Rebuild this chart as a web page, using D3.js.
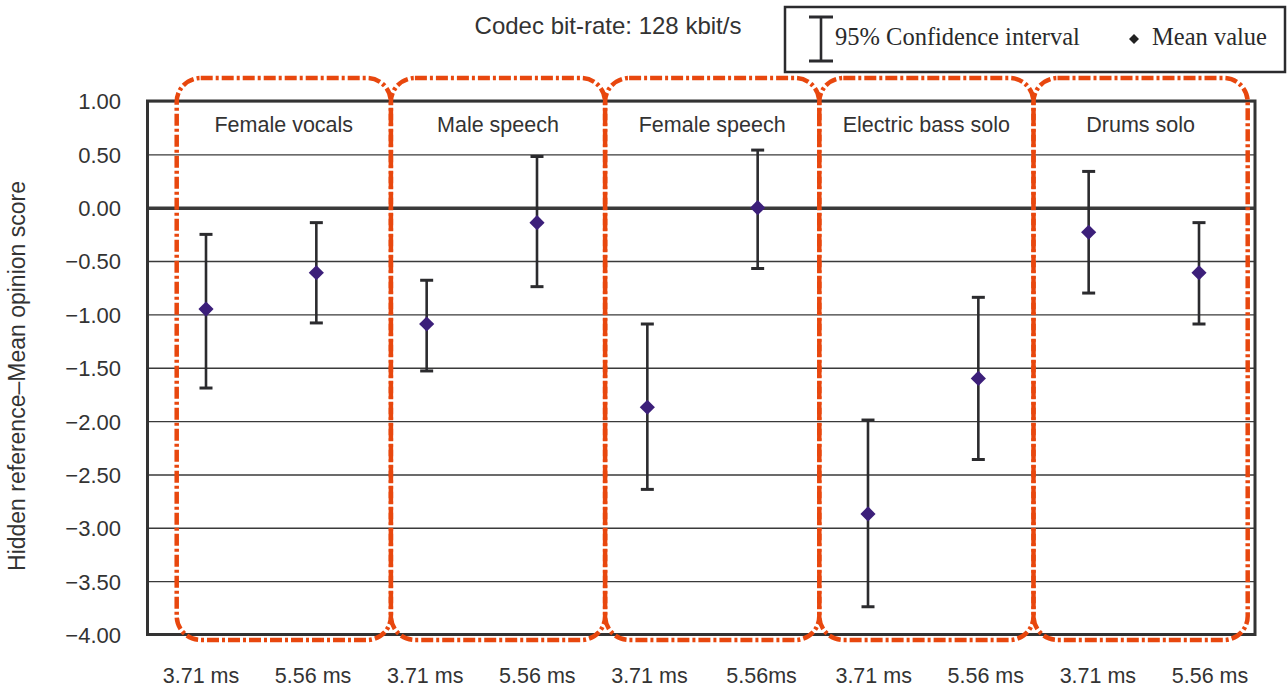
<!DOCTYPE html>
<html>
<head>
<meta charset="utf-8">
<script src="https://cdn.jsdelivr.net/npm/d3@7"></script>
<style>
  body { margin: 0; background: #fff; }
  text { font-family: "Liberation Sans", Arial, sans-serif; fill: #333; }
  .legend { font-family: "Liberation Serif", "Times New Roman", serif; fill: #2a2a2a; }
</style>
</head>
<body>
<div id="chart"></div>
<script>
// signal types, one box each
var categories = ["Female vocals", "Male speech", "Female speech", "Electric bass solo", "Drums solo"];
// delay conditions (x labels)
var delays = ["3.71 ms", "5.56 ms", "3.71 ms", "5.56 ms", "3.71 ms", "5.56ms", "3.71 ms", "5.56 ms", "3.71 ms", "5.56 ms"];
// mean values and 95% confidence limits
var meanValues = [-0.95, -0.61, -1.09, -0.14, -1.87, 0.00, -2.87, -1.60, -0.23, -0.61];
var ciUpper    = [-0.25, -0.14, -0.68,  0.48, -1.09, 0.54, -1.99, -0.84,  0.34, -0.14];
var ciLower    = [-1.69, -1.08, -1.53, -0.74, -2.64, -0.57, -3.74, -2.36, -0.80, -1.09];
var yTicks = [1, 0.5, 0, -0.5, -1, -1.5, -2, -2.5, -3, -3.5, -4];

var w = 1288, h = 689;
var marges = {left: 147.5, right: 33, top: 101, bottom: 54.5};
var graf_w = w - marges.left - marges.right;
var graf_h = h - marges.top - marges.bottom;

var svg = d3.select("#chart")
  .append("svg")
    .attr("width", w)
    .attr("height", h);

var data = meanValues.map(function(m, i) {
    return {i: i, mean: m, hi: ciUpper[i], lo: ciLower[i], label: delays[i]};
});

// <-- SCALES -------------
var y = d3.scaleLinear()
    .domain([-4, 1])
    .range([marges.top + graf_h, marges.top]);

var x = d3.scalePoint()
    .domain(d3.range(delays.length))
    .range([206, 1199]);

// x labels sit on a slightly wider spacing than the marks
var xLab = d3.scalePoint()
    .domain(d3.range(delays.length))
    .range([201, 1210]);

// box edges for the signal groups
var xBox = d3.scaleLinear()
    .domain([0, categories.length])
    .range([176.7, 1247.7]);
// -- SCALES ------------->

// <-- GRID + Y AXIS -------------
svg.append("g")
  .attr("class", "grid")
  .attr("transform", "translate(" + marges.left + ",0)")
  .call(d3.axisLeft(y).tickValues(yTicks).tickSize(-graf_w).tickFormat(""))
  .call(function(g) { g.select(".domain").remove(); })
  .selectAll("line")
    .attr("stroke", "#3a3a3a")
    .attr("stroke-width", function(d) { return d == 0 ? 3.5 : 1.4; });

var yaxis = svg.append("g")
  .attr("class", "yaxis")
  .attr("transform", "translate(121," + 0 + ")")
  .call(d3.axisLeft(y).tickValues(yTicks).tickSize(0).tickPadding(0).tickFormat(d3.format(".2f")));
yaxis.select(".domain").remove();
yaxis.selectAll("text")
    .style("font-size", "22px")
    .attr("dy", "0.36em")
    .attr("fill", "#333");

svg.append("rect")
    .attr("x", marges.left)
    .attr("y", marges.top)
    .attr("width", graf_w)
    .attr("height", graf_h)
    .attr("fill", "none")
    .attr("stroke", "#333")
    .attr("stroke-width", 3);

svg.append("text")
    .attr("transform", "translate(25," + 376 + ") rotate(-90)")
    .attr("text-anchor", "middle")
    .style("font-size", "23px")
    .text("Hidden reference\u2013Mean opinion score");
// -- GRID + Y AXIS ------------->

// <-- GROUP BOXES -------------
svg.append("g")
  .selectAll("rect")
  .data(categories)
  .enter().append("rect")
    .attr("x", function(d, i) { return xBox(i); })
    .attr("y", 78)
    .attr("width", function(d, i) { return xBox(i + 1) - xBox(i); })
    .attr("height", 562)
    .attr("rx", 24)
    .attr("ry", 24)
    .attr("fill", "none")
    .attr("stroke", "#e8470e")
    .attr("stroke-width", 4.5)
    .attr("stroke-dasharray", "12,3,3,3");

svg.append("g")
  .selectAll("text")
  .data(categories)
  .enter().append("text")
    .attr("x", function(d, i) { return (xBox(i) + xBox(i + 1)) / 2; })
    .attr("y", 132)
    .attr("text-anchor", "middle")
    .style("font-size", "21.5px")
    .text(function(d) { return d; });
// -- GROUP BOXES ------------->

// <-- ERROR BARS + MEANS -------------
var bars = svg.append("g")
  .selectAll("g")
  .data(data)
  .enter().append("g")
    .attr("stroke", "#2b2b2e");

bars.append("line")
    .attr("x1", function(d) { return x(d.i); })
    .attr("x2", function(d) { return x(d.i); })
    .attr("y1", function(d) { return y(d.hi); })
    .attr("y2", function(d) { return y(d.lo); })
    .attr("stroke-width", 2.6);

bars.selectAll(".cap")
  .data(function(d) { return [{i: d.i, v: d.hi}, {i: d.i, v: d.lo}]; })
  .enter().append("line")
    .attr("class", "cap")
    .attr("x1", function(d) { return x(d.i) - 6.5; })
    .attr("x2", function(d) { return x(d.i) + 6.5; })
    .attr("y1", function(d) { return y(d.v); })
    .attr("y2", function(d) { return y(d.v); })
    .attr("stroke-width", 3);

svg.append("g")
  .selectAll("path")
  .data(data)
  .enter().append("path")
    .attr("d", d3.symbol(d3.symbolSquare, 115))
    .attr("transform", function(d) { return "translate(" + x(d.i) + "," + y(d.mean) + ") rotate(45)"; })
    .attr("fill", "#3c1f7a");
// -- ERROR BARS + MEANS ------------->

// x labels
svg.append("g")
  .selectAll("text")
  .data(data)
  .enter().append("text")
    .attr("x", function(d) { return xLab(d.i); })
    .attr("y", 683)
    .attr("text-anchor", "middle")
    .style("font-size", "21.5px")
    .text(function(d) { return d.label; });

// title
svg.append("text")
    .attr("x", 608)
    .attr("y", 34)
    .attr("text-anchor", "middle")
    .style("font-size", "24px")
    .text("Codec bit-rate: 128 kbit/s");

// <-- LEGEND -------------
var leg = svg.append("g");
leg.append("rect")
    .attr("x", 785)
    .attr("y", 7)
    .attr("width", 500)
    .attr("height", 65)
    .attr("fill", "#fff")
    .attr("stroke", "#2b2b2e")
    .attr("stroke-width", 2.5);

leg.append("line")
    .attr("x1", 821).attr("x2", 821)
    .attr("y1", 17).attr("y2", 61)
    .attr("stroke", "#2b2b2e").attr("stroke-width", 2.6);
[17, 61].forEach(function(cy) {
    leg.append("line")
        .attr("x1", 809).attr("x2", 833)
        .attr("y1", cy).attr("y2", cy)
        .attr("stroke", "#2b2b2e").attr("stroke-width", 3);
});
leg.append("text")
    .attr("class", "legend")
    .attr("x", 835)
    .attr("y", 45)
    .style("font-size", "24.5px")
    .text("95% Confidence interval");

leg.append("path")
    .attr("d", d3.symbol(d3.symbolSquare, 50))
    .attr("transform", "translate(1134,39) rotate(45)")
    .attr("fill", "#222");
leg.append("text")
    .attr("class", "legend")
    .attr("x", 1152)
    .attr("y", 45)
    .style("font-size", "24.5px")
    .text("Mean value");
// -- LEGEND ------------->
</script>
</body>
</html>
